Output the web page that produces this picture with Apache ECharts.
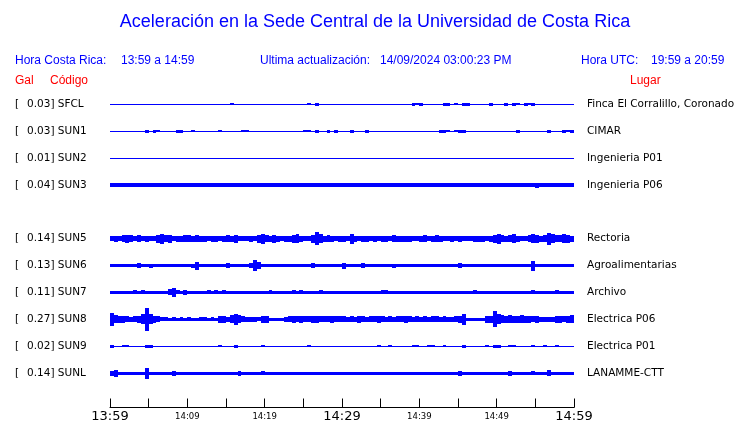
<!DOCTYPE html>
<html><head><meta charset="utf-8">
<script src="https://cdn.jsdelivr.net/npm/echarts@6/dist/echarts.min.js"></script>
<style>html,body{margin:0;padding:0;background:#fff}#c{width:740px;height:423px}</style>
</head><body><div id="c"></div>
<script>
// ---------- texts ----------
const TITLE = 'Aceleración en la Sede Central de la Universidad de Costa Rica';
const HORA_CR = ['Hora Costa Rica:', '13:59 a 14:59'];
const ACTUALIZACION = ['Ultima actualización:', '14/09/2024 03:00:23 PM'];
const HORA_UTC = ['Hora UTC:', '19:59 a 20:59'];
const COL_HEADERS = ['Gal', 'Código', 'Lugar'];

// ---------- stations ----------
const STATIONS = ['SFCL','SUN1','SUN2','SUN3','SUN4','SUN5','SUN6','SUN7','SUN8','SUN9','SUNL'];
const PEAK_GAL = [0.03,0.03,0.01,0.04,null,0.14,0.13,0.11,0.27,0.02,0.14];
const PLACES = ['Finca El Corralillo, Coronado','CIMAR','Ingenieria P01','Ingenieria P06','',
  'Rectoria','Agroalimentarias','Archivo','Electrica P06','Electrica P01','LANAMME-CTT'];

// ---------- time axis (minutes after 13:59) ----------
const TICK_LABELS = ['13:59','14:09','14:19','14:29','14:39','14:49','14:59'];
const MAJOR_LABELS = ['13:59','14:29','14:59'];
const BIN_MINUTES = 0.5;           // each envelope value covers 30 s
const AMP_PER_ROW = 27;            // envelope units per station row spacing

// ---------- envelope (half amplitude) per 30 s, 120 values each ----------
const SFCL = [
 .5,.5,.5,.5,.5,.5,.5,.5,.5,.5, .5,.5,.5,.5,.5,.5,.5,.5,.5,.5,
 .5,.5,.5,.5,.5,.5,.5,.5,.5,.5, .5,1,.5,.5,.5,.5,.5,.5,.5,.5,
 .5,.5,.5,.5,.5,.5,.5,.5,.5,.5, .5,1,.5,1.7,.5,.5,.5,.5,.5,.5,
 .5,.5,.5,.5,.5,.5,.5,.5,.5,.5, .5,.5,.5,.5,.5,.5,.5,.5,1.5,1,
 1.5,.5,.5,.5,.5,.5,1.5,1.7,.5,1, .5,1.5,1.7,.5,.5,.5,.5,.5,1.7,.5,
 .5,.5,1.5,.5,1.5,1,.5,1.5,1,1.5, .5,.5,.5,.5,.5,.5,.5,.5,.5,.5];
const SUN1 = [
 .5,.5,.5,.5,.5,.5,.5,.5,.5,1.7, .5,1.5,1,.5,.5,.5,.5,1.5,1.7,.5,
 .5,1,.5,.5,.5,.5,.5,.5,1,.5, .5,.5,.5,.5,1,1,.5,.5,.5,.5,
 .5,.5,.5,.5,.5,.5,.5,.5,.5,.5, 1,1,.5,1.5,.5,.5,1.5,.5,1.5,.5,
 .5,.5,1.5,.5,.5,.5,1.5,.5,.5,.5, .5,.5,.5,.5,.5,.5,.5,.5,.5,.5,
 .5,.5,.5,.5,.5,1.5,1.7,1,.5,.8, 1.7,1.7,.5,.5,.5,.5,.5,.5,.5,.5,
 .5,.5,.5,.5,.5,1.5,.5,.5,.5,.5, .5,.5,.5,1.5,.5,.5,.5,1.7,1,1.7];
const SUN2 = [
 .5,.5,.5,.5,.5,.5,.5,.5,.5,.5, .5,.5,.5,.5,.5,.5,.5,.5,.5,.5,
 .5,.5,.5,.5,.5,.5,.5,.5,.5,.5, .5,.5,.5,.5,.5,.5,.5,.5,.5,.5,
 .5,.5,.5,.5,.5,.5,.5,.5,.5,.5, .5,.5,.5,.5,.5,.5,.5,.5,.5,.5,
 .5,.5,.5,.5,.5,.5,.5,.5,.5,.5, .5,.5,.5,.5,.5,.5,.5,.5,.5,.5,
 .5,.5,.5,.5,.5,.5,.5,.5,.5,.5, .5,.5,.5,.5,.5,.5,.5,.5,.5,.5,
 .5,.5,.5,.5,.5,.5,.5,.5,.5,.5, .5,.5,.5,.5,.5,.5,.5,.5,.5,.5];
const SUN3 = [
 1.7,1.7,1.7,1.7,1.7,1.7,1.7,1.7,1.7,1.7, 1.7,1.7,1.7,1.7,1.7,1.7,1.7,1.7,1.7,1.7,
 1.7,1.7,1.7,1.7,1.7,1.7,1.7,1.7,1.7,1.7, 1.7,1.7,1.7,1.7,1.7,1.7,1.7,1.7,1.7,1.7,
 1.7,1.7,1.7,1.7,1.7,1.7,1.7,1.7,1.7,1.7, 1.7,1.7,1.7,1.7,1.7,1.7,1.7,1.7,1.7,1.7,
 1.7,1.7,1.7,1.7,1.7,1.7,1.7,1.7,1.7,1.7, 1.7,1.7,1.7,1.7,1.7,1.7,1.7,1.7,1.7,1.7,
 1.7,1.7,1.7,1.7,1.7,1.7,1.7,1.7,1.7,1.7, 1.7,1.7,1.7,1.7,1.7,1.7,1.7,1.7,1.7,1.7,
 1.7,1.7,1.7,1.7,1.7,1.7,1.7,1.7,1.7,1.7, 2.5,1.7,1.7,1.7,1.7,1.7,1.7,1.7,1.7,1.7];
const SUN4 = null;  // no trace
const SUN5 = [
 2.5,3,2.5,3.5,4,3.5,2.5,3.5,2.5,3, 2.5,2.5,4,5,3.5,4,2.5,3,3,3.5,
 3.5,3,3.5,3,3,2.5,3,3,2.5,3, 3.5,3,4,2.5,2.5,2.5,3,2.5,4,5,
 3.5,3,4,3,2.5,3,3,4,4.5,3, 2.5,2.5,4,6.5,4.5,3,3.5,3,2.5,3,
 3,2.5,5,3,2.5,3,3,2.5,3,2.5, 3,3,2.5,3.5,3,3,3,3,2.5,2.5,
 3,3.5,2.5,3,3.5,3,2.5,2.5,3,2.5, 3,2.5,2.5,2.5,3,3,3,2.5,3,4,
 5,3.5,3,3.5,4.5,3,2.5,2.5,3.5,4.5, 4,3,3.5,6,4.5,3.5,3.5,4.5,4,3];
const SUN6 = [
 1.5,1.5,1.5,1.5,1.5,1.5,1.5,2.5,1.5,1.5, 2,1.5,1.5,1.5,1.5,1.5,1.5,1.5,1.5,1.5,
 1.5,2,4,1.5,1.5,1.5,1.5,1.5,1.5,1.5, 2.5,1.5,1.5,1.5,1.5,1.5,2.5,5.5,3.5,1.5,
 1.5,1.5,1.5,1.5,1.5,1.5,1.5,1.5,1.5,1.5, 1.5,1.5,2.5,1.5,1.5,1.5,1.5,1.5,1.5,1.5,
 3,1.5,1.5,1.5,1.5,2.5,1.5,1.5,1.5,1.5, 1.5,1.5,1.5,2,1.5,1.5,1.5,1.5,1.5,1.5,
 1.5,1.5,1.5,1.5,1.5,1.5,1.5,1.5,1.5,1.5, 2.5,1.5,1.5,1.5,1.5,1.5,1.5,1.5,1.5,1.5,
 1.5,1.5,1.5,1.5,1.5,1.5,1.5,1.5,1.5,5, 1.5,1.5,1.5,1.5,1.5,1.5,1.5,1.5,1.5,1.5];
const SUN7 = [
 1.3,1.3,1.3,1.3,1.3,1.3,2,1.3,2,1.3, 1.3,1.3,1.3,1.3,1.3,3,4.5,2,1.3,2.5,
 1.3,1.3,1.3,1.3,1.3,2,1.3,2,1.3,2, 1.3,1.3,1.3,1.3,1.3,1.3,1.3,1.3,1.3,1.3,
 1.3,2,1.3,1.3,1.3,1.3,1.3,2,1.3,2, 1.3,1.3,1.3,1.3,2,1.3,1.3,1.3,1.3,1.3,
 1.3,1.3,1.3,1.3,1.3,1.3,1.3,1.3,1.3,1.3, 2,2,1.3,1.3,1.3,1.3,1.3,1.3,1.3,1.3,
 1.3,1.3,1.3,1.3,1.3,1.3,1.3,1.3,1.3,1.3, 1.3,1.3,1.3,1.3,2,1.3,1.3,1.3,1.3,1.3,
 1.3,1.3,1.3,1.3,1.3,1.3,1.3,1.3,1.3,2, 1.3,1.3,1.3,1.3,1.3,2,1.3,1.3,1.3,1.3];
const SUN8 = [
 6.5,4,3.5,3.5,3,2.5,3,3.5,5,11.5, 5,3.5,3,2,2,1.7,2,1.7,2,1.7,
 2,1.7,1.7,2,2,1.7,2,1.7,3.5,3.5, 2.5,4,5.5,4,3,2.5,2.5,2.5,2,3.5,
 3.5,1.7,1.7,1.7,1.7,2.5,3,3.5,3,3.5, 3,3,3.5,3.5,3,3,3,3.5,3,3,
 3,2.5,3,2.5,3.5,3,2.5,3,3,3.5, 3,2.5,3,2.5,3,3,3.5,3,2.5,3,
 2.5,3,2.5,3,3,2.5,3,2.5,2.5,3, 3.5,5.5,1.7,1.7,1.7,1.7,1.7,3.5,3.5,8,
 5,4,3.5,4,3.5,3.5,4,3.5,3.5,3, 3.5,2.5,2.5,2.5,2.5,3.5,3.5,3,3.5,4];
const SUN9 = [
 1.5,.5,.5,1,1,.5,.5,.5,.5,1.5, 1.5,.5,.5,.5,.5,.5,.5,.5,.5,.5,
 .5,.5,.5,.5,.5,.5,.5,.5,1,.5, .5,.5,1.5,.5,.5,.5,.5,.5,.5,1,
 .5,.5,.5,.5,.5,.5,.5,.5,.5,.5, .5,1,.5,.5,.5,.5,.5,.5,.5,.5,
 .5,.5,.5,.5,.5,.5,.5,.5,.5,1, .5,.5,1,.5,.5,.5,.5,.5,1,1,
 .5,.5,1,1,.5,.5,1,.5,.5,.5, .5,1.5,.5,.5,.5,.5,.5,1,.5,1.5,
 1.5,.5,.5,1,1,.5,.5,.5,.5,1, .5,.5,1,.5,.5,1,.5,.5,.5,.5];
const SUNL = [
 2.5,3.5,1.5,1.5,1.5,1.5,1.5,1.5,1.5,5.5, 1.5,1.5,1.5,1.5,1.5,1.5,2.5,1.5,1.5,1.5,
 1.5,1.5,1.5,1.5,1.5,1.5,1.5,1.5,1.5,1.5, 1.5,1.5,1.5,2.5,1.5,1.5,1.5,1.5,1.5,2,
 1.5,1.5,1.5,1.5,1.5,1.5,1.5,1.5,1.5,1.5, 1.5,1.5,1.5,1.5,1.5,1.5,1.5,1.5,1.5,1.5,
 1.5,1.5,1.5,1.5,1.5,1.5,1.5,1.5,1.5,1.5, 1.5,1.5,1.5,1.5,1.5,1.5,1.5,1.5,1.5,1.5,
 1.5,1.5,1.5,1.5,1.5,1.5,1.5,1.5,1.5,1.5, 2.5,1.5,1.5,1.5,1.5,1.5,1.5,1.5,1.5,1.5,
 1.5,1.5,1.5,2.5,1.5,1.5,1.5,1.5,1.5,2, 1.5,1.5,1.5,3,1.5,1.5,1.5,1.5,1.5,1.5];

const TRACES = [SFCL, SUN1, SUN2, SUN3, SUN4, SUN5, SUN6, SUN7, SUN8, SUN9, SUNL];

// ---------- build ----------
const BLUE = '#0000ff', RED = '#ff0000';
const HEAD_FONT = '12px "Liberation Sans", Arial, sans-serif';
const traceData = [];
TRACES.forEach((tr, row) => {
  if (!tr) return;
  tr.forEach((amp, i) => traceData.push([i * BIN_MINUTES, row, amp]));
});

function renderItem(params, api) {
  const t = api.value(0), row = api.value(1), amp = api.value(2);
  const p0 = api.coord([t, row]);
  const p1 = api.coord([t + BIN_MINUTES, row]);
  const unit = api.size([0, 1])[1] / AMP_PER_ROW;
  const half = amp * unit;
  const x0 = Math.round(p0[0]), x1 = Math.round(p1[0]);
  const y0 = Math.round(p0[1] - half);
  const y1 = Math.max(y0 + 1, Math.round(p0[1] + half));
  return { type: 'rect', shape: { x: x0, y: y0, width: x1 - x0, height: y1 - y0 },
           style: { fill: BLUE } };
}

const labelFont = { fontFamily: 'DejaVu Sans', fontSize: 10.5, color: '#000' };

function txt(text, x, y, color, font, align) {
  return { type: 'text', x: x, y: y, silent: true,
    style: { text: text, fill: color, font: font, textAlign: align || 'left', textVerticalAlign: 'middle' } };
}

const chart = echarts.init(document.getElementById('c'), null, { renderer: 'canvas' });
chart.setOption({
  animation: false,
  backgroundColor: '#fff',
  grid: { left: 110, right: 166, top: 91, height: 297, containLabel: false },
  xAxis: {
    type: 'value', min: 0, max: 60, interval: 5, offset: 21,
    axisLine: { show: true, lineStyle: { color: '#000', width: 1 } },
    axisTick: { show: true, inside: true, length: 9, lineStyle: { color: '#000', width: 1 } },
    splitLine: { show: false },
    axisLabel: {
      margin: 1, showMinLabel: true, showMaxLabel: true,
      formatter: v => {
        if (v % 10 !== 0) return '';
        const lab = TICK_LABELS[v / 10];
        return MAJOR_LABELS.indexOf(lab) >= 0 ? '{M|' + lab + '}' : '{m|' + lab + '}';
      },
      rich: {
        M: { fontFamily: 'DejaVu Sans', fontSize: 13, color: '#000', lineHeight: 16 },
        m: { fontFamily: 'DejaVu Sans', fontSize: 8.5, color: '#000', lineHeight: 16 }
      }
    }
  },
  yAxis: [{
    type: 'category', data: STATIONS, inverse: true,
    axisLine: { show: false }, axisTick: { show: false }, splitLine: { show: false },
    axisLabel: {
      interval: 0, align: 'left', margin: 95,
      formatter: (v, i) => PEAK_GAL[i] == null ? '' :
        '{a|[}{b|' + PEAK_GAL[i].toFixed(2) + ']} {c|' + v + '}',
      rich: {
        a: Object.assign({ width: 12 }, labelFont),
        b: Object.assign({}, labelFont),
        c: Object.assign({}, labelFont)
      }
    }
  }, {
    type: 'category', data: STATIONS, inverse: true, position: 'right',
    axisLine: { show: false }, axisTick: { show: false }, splitLine: { show: false },
    axisLabel: Object.assign({ interval: 0, align: 'left', margin: 13,
      formatter: (v, i) => PLACES[i] }, labelFont)
  }],
  series: [{
    type: 'custom', renderItem: renderItem, data: traceData, silent: true,
    xAxisIndex: 0, yAxisIndex: 0, clip: false,
    encode: { x: 0, y: 1 }
  }],
  graphic: [
    txt(TITLE, 375, 22, BLUE, '18px "Liberation Sans", Arial, sans-serif', 'center'),
    txt(HORA_CR[0], 15, 61, BLUE, HEAD_FONT),
    txt(HORA_CR[1], 121, 61, BLUE, HEAD_FONT),
    txt(ACTUALIZACION[0], 260, 61, BLUE, HEAD_FONT),
    txt(ACTUALIZACION[1], 380, 61, BLUE, HEAD_FONT),
    txt(HORA_UTC[0], 581, 61, BLUE, HEAD_FONT),
    txt(HORA_UTC[1], 651, 61, BLUE, HEAD_FONT),
    txt(COL_HEADERS[0], 15, 81, RED, HEAD_FONT),
    txt(COL_HEADERS[1], 50, 81, RED, HEAD_FONT),
    txt(COL_HEADERS[2], 630, 81, RED, HEAD_FONT)
  ]
});
</script>
</body></html>
